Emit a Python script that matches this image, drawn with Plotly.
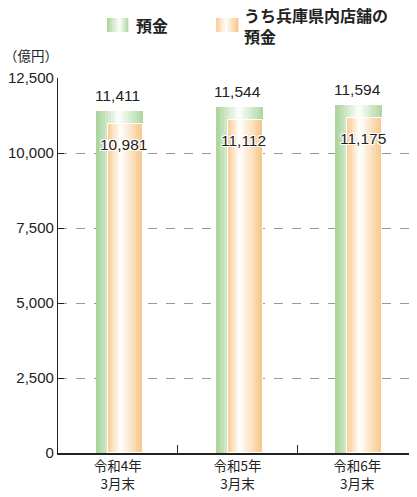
import plotly.graph_objects as go

# ---- data ----
categories = ["令和4年<br>3月末", "令和5年<br>3月末", "令和6年<br>3月末"]
deposits = [11411, 11544, 11594]
hyogo_deposits = [10981, 11112, 11175]
y_ticks = [0, 2500, 5000, 7500, 10000, 12500]
series_names = ["預金", "うち兵庫県内店舗の<br>預金"]

# page body has an 8px default margin: lay out in window pixels, then shift
OFF = 8
WIN_W, WIN_H = 417, 497
W, H = WIN_W, WIN_H - OFF
ML, MR, MT, MB = 58 - OFF, OFF, 78 - OFF, 44
PW, PH = W - ML - MR, H - MT - MB

GREEN_L = (166, 211, 152)
GREEN_R = (172, 214, 160)
ORANGE_L = (250, 203, 146)
ORANGE_R = (248, 196, 132)


def grad(t, left, right, peak):
    white = (255, 255, 255)
    if t <= peak:
        f = t / peak
        c = [left[k] + (white[k] - left[k]) * f for k in range(3)]
    else:
        f = (t - peak) / (1 - peak)
        c = [white[k] + (right[k] - white[k]) * f for k in range(3)]
    return "rgb(%d,%d,%d)" % tuple(round(v) for v in c)


N = 16
fig = go.Figure()


def add_grad_bar(values, left, width, cl, cr, peak):
    sw = width / N
    for i in range(N):
        t = (i + 0.5) / N
        fig.add_trace(go.Bar(
            x=categories, y=values,
            offset=left + i * sw,
            width=sw * (1.25 if i < N - 1 else 1.0),
            marker=dict(color=grad(t, cl, cr, peak), line=dict(width=0)),
            showlegend=False, hoverinfo="skip",
        ))


add_grad_bar(deposits, -0.183, 0.392, GREEN_L, GREEN_R, 0.5)
add_grad_bar(hyogo_deposits, -0.083, 0.292, ORANGE_L, ORANGE_R, 0.36)
# thin white outline of the inner bar
fig.add_trace(go.Bar(
    x=categories, y=hyogo_deposits, offset=-0.083, width=0.292,
    marker=dict(color="rgba(0,0,0,0)", line=dict(color="white", width=1)),
    showlegend=False, hoverinfo="skip",
))

annotations = []
halo = "1px 1px 0 #fff, -1px -1px 0 #fff, 1px -1px 0 #fff, -1px 1px 0 #fff, 0 1px 0 #fff, 0 -1px 0 #fff, 1px 0 0 #fff, -1px 0 0 #fff"
for i, (d, h) in enumerate(zip(deposits, hyogo_deposits)):
    annotations.append(dict(
        x=i + 0.0, y=d, xref="x", yref="y", text=f"{d:,}", showarrow=False,
        yanchor="bottom", yshift=5,
        font=dict(family="Liberation Sans, Arial, sans-serif", size=15.5, color="#222"),
    ))
    annotations.append(dict(
        x=i + 0.05, y=h, xref="x", yref="y", text=f"{h:,}", showarrow=False,
        yanchor="middle", yshift=-21,
        font=dict(family="Liberation Sans, Arial, sans-serif", size=15.5, color="#222",
                  shadow=halo),
    ))


def px_x(p):  # window pixel -> paper
    return (p - OFF - ML) / PW


def px_y(p):
    return (MT + PH - (p - OFF)) / PH


# y-axis unit label
annotations.append(dict(
    x=px_x(31), y=px_y(55), xref="paper", yref="paper", text="（億円）",
    showarrow=False, xanchor="center", yanchor="middle",
    font=dict(family="Noto Sans CJK JP", size=13.5, color="#222"),
))

# custom legend
shapes = []


def legend_swatch(x0, x1, y0, y1, cl, cr, peak):
    n = 12
    sw = (x1 - x0) / n
    for i in range(n):
        t = (i + 0.5) / n
        shapes.append(dict(
            type="rect", xref="paper", yref="paper",
            x0=px_x(x0 + i * sw), x1=px_x(x0 + (i + 1) * sw + 0.4),
            y0=px_y(y1), y1=px_y(y0),
            fillcolor=grad(t, cl, cr, peak), line=dict(width=0),
        ))


legend_swatch(107, 128, 18, 32, GREEN_L, GREEN_R, 0.6)
legend_swatch(216, 238, 18, 32, ORANGE_L, ORANGE_R, 0.45)
annotations.append(dict(
    x=px_x(134), y=px_y(25), xref="paper", yref="paper", text="<b>" + series_names[0] + "</b>",
    showarrow=False, xanchor="left", yanchor="middle",
    font=dict(family="Noto Sans CJK JP", size=16, color="#222"),
))
annotations.append(dict(
    x=px_x(242), y=px_y(25), xref="paper", yref="paper", text="<b>" + series_names[1].replace("<br>", "</b><br><b>") + "</b>",
    showarrow=False, xanchor="left", yanchor="middle", align="left",
    font=dict(family="Noto Sans CJK JP", size=16, color="#222"),
))

fig.update_layout(
    width=W, height=H,
    margin=dict(l=ML, r=MR, t=MT, b=MB, pad=0, autoexpand=False),
    barmode="overlay", bargap=0,
    plot_bgcolor="white", paper_bgcolor="white",
    showlegend=False,
    annotations=annotations, shapes=shapes,
    xaxis=dict(
        type="category", range=[-0.5, 2.5], automargin=False,
        tickson="boundaries", ticks="inside", ticklen=8, tickcolor="#222", tickwidth=1.2,
        showline=True, linecolor="#222", linewidth=1.5,
        showgrid=False,
        tickfont=dict(family="Noto Sans CJK JP", size=13.5, color="#222"),
    ),
    yaxis=dict(
        range=[0, 12500], tickvals=y_ticks, tickformat=",", automargin=False,
        showline=True, linecolor="#222", linewidth=1.2,
        ticks="inside", ticklen=6, tickcolor="#222",
        showgrid=True, gridcolor="#999", griddash="dash", gridwidth=1.2,
        zeroline=False,
        tickfont=dict(family="Liberation Sans, Arial, sans-serif", size=15, color="#222"),
    ),
)

fig.write_html("out.html")
